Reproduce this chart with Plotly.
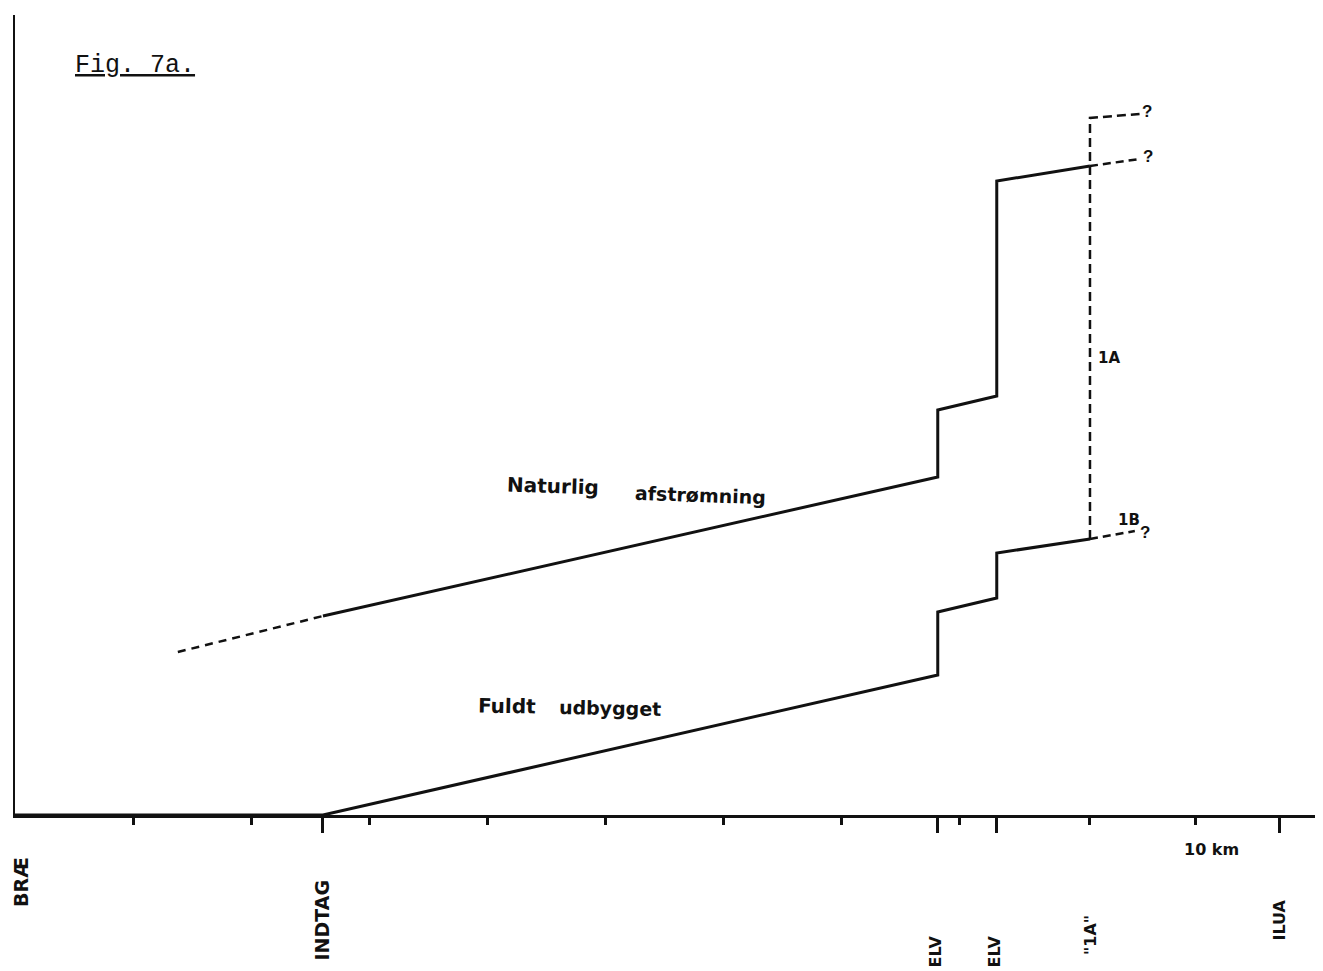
import plotly.graph_objects as go

# ---- data (distance along river in km, discharge in relative units) ----
nat_pre_x = [1.38, 2.61]
nat_pre_y = [16.3, 19.9]
nat_x = [2.61, 7.82, 7.82, 8.32, 8.32, 9.11]
nat_y = [19.9, 33.8, 40.5, 41.9, 63.4, 64.9]
nat_post_x = [9.11, 9.53]
nat_post_y = [64.9, 65.6]

full_x = [0.0, 2.61, 7.82, 7.82, 8.32, 8.32, 9.11]
full_y = [0.0, 0.0, 14.0, 20.3, 21.7, 26.2, 27.6]
full_post_x = [9.11, 9.49]
full_post_y = [27.6, 28.4]

alt1a_x = [9.11, 9.11, 9.53]
alt1a_y = [27.6, 69.7, 70.1]

loc_names = ["BRÆ", "INDTAG", "ELV", "ELV", "\"1A\"", "ILUA"]
loc_km = [0.05, 2.61, 7.80, 8.30, 9.11, 10.72]
loc_label_top = [-0.050, -0.0775, -0.1475, -0.1475, -0.1225, -0.1025]  # paper units
long_ticks = [2.61, 7.82, 8.32, 10.72]
km_ticks = [1, 2, 3, 4, 5, 6, 7, 8, 9.11, 10]

INK = "#111111"
LBL = "DejaVu Sans"

fig = go.Figure()

def line(x, y, dash="solid", w=3):
    fig.add_trace(go.Scatter(x=x, y=y, mode="lines", showlegend=False,
                             line=dict(color=INK, width=w, dash=dash),
                             cliponaxis=False, hoverinfo="skip"))

line(nat_pre_x, nat_pre_y, dash="8px,6px", w=2.5)
line(nat_x, nat_y)
line(nat_post_x, nat_post_y, dash="8px,5px", w=2.5)
line(full_x, full_y)
line(full_post_x, full_post_y, dash="8px,5px", w=2.5)
line(alt1a_x, alt1a_y, dash="9px,5px", w=2.5)

ann = []
# location labels under axis (rotated)
for name, km, top in zip(loc_names, loc_km, loc_label_top):
    size = 19 if name in ("BRÆ", "INDTAG") else 16
    ann.append(dict(x=km, y=top, xref="x", yref="paper", text="<b>%s</b>" % name,
                    textangle=-90, showarrow=False, xanchor="center", yanchor="top",
                    font=dict(family=LBL, size=size, color=INK)))
ann.append(dict(x=10.14, y=-0.0425, xref="x", yref="paper", text="<b>10 km</b>", showarrow=False,
                xanchor="center", yanchor="middle",
                font=dict(family=LBL, size=16, color=INK)))
# curve labels
ann.append(dict(x=4.56, y=32.9, xref="x", yref="y", text="<b>Naturlig</b>", showarrow=False,
                textangle=2, font=dict(family=LBL, size=20, color=INK)))
ann.append(dict(x=5.81, y=32.0, xref="x", yref="y", text="<b>afstrømning</b>", showarrow=False,
                textangle=2, font=dict(family=LBL, size=19, color=INK)))
ann.append(dict(x=4.17, y=10.9, xref="x", yref="y", text="<b>Fuldt</b>", showarrow=False,
                textangle=1, font=dict(family=LBL, size=20, color=INK)))
ann.append(dict(x=5.04, y=10.7, xref="x", yref="y", text="<b>udbygget</b>", showarrow=False,
                textangle=1, font=dict(family=LBL, size=19, color=INK)))
# 1A / 1B / question marks
ann.append(dict(x=9.27, y=45.7, xref="x", yref="y", text="<b>1A</b>", showarrow=False,
                font=dict(family=LBL, size=15, color=INK)))
ann.append(dict(x=9.44, y=29.5, xref="x", yref="y", text="<b>1B</b>", showarrow=False,
                font=dict(family=LBL, size=15, color=INK)))
for qx, qy in [(9.59, 70.4), (9.60, 65.9), (9.58, 28.3)]:
    ann.append(dict(x=qx, y=qy, xref="x", yref="y", text="<b>?</b>", showarrow=False,
                    font=dict(family="Liberation Sans", size=17, color=INK)))
# figure title
ann.append(dict(x=1.02, y=75.0, xref="x", yref="y", text="<u>Fig. 7a.</u>", showarrow=False,
                font=dict(family="Liberation Mono", size=25, color=INK)))

fig.update_layout(
    width=1315, height=963,
    margin=dict(l=7, r=0, t=7, b=156),
    paper_bgcolor="white", plot_bgcolor="white",
    annotations=ann,
    xaxis=dict(range=[0, 1308 / 118], showgrid=False, zeroline=False,
               showline=True, linecolor=INK, linewidth=2.5,
               tickmode="array", tickvals=long_ticks, ticks="outside",
               ticklen=15, tickwidth=2.5, tickcolor=INK, showticklabels=False,
               minor=dict(tickmode="array", tickvals=km_ticks, ticks="outside",
                          ticklen=7, tickwidth=2.5, tickcolor=INK, showgrid=False)),
    yaxis=dict(range=[0, 80], showgrid=False, zeroline=False,
               showline=True, linecolor=INK, linewidth=2,
               showticklabels=False, ticks=""),
)

fig.write_html("out.html")
